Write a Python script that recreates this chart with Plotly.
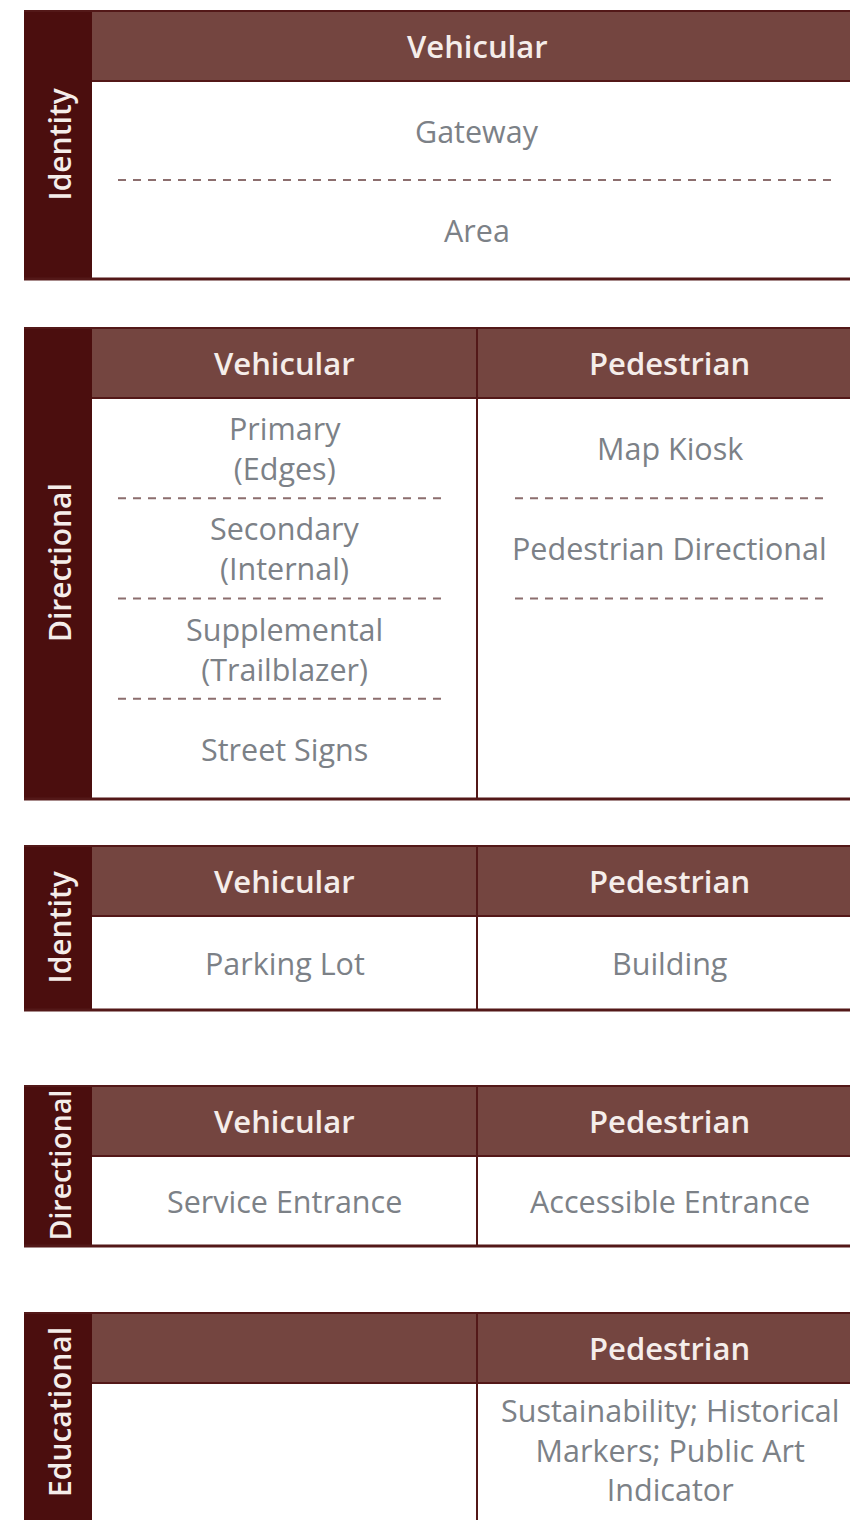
import plotly.graph_objects as go

# ---------------- data ----------------
section_labels = ["Identity", "Directional", "Identity", "Directional", "Educational"]

column_headers = [
    ["Vehicular"],
    ["Vehicular", "Pedestrian"],
    ["Vehicular", "Pedestrian"],
    ["Vehicular", "Pedestrian"],
    ["", "Pedestrian"],
]

column_items = [
    [["Gateway", "Area"]],
    [["Primary<br>(Edges)", "Secondary<br>(Internal)", "Supplemental<br>(Trailblazer)", "Street Signs"],
     ["Map Kiosk", "Pedestrian Directional"]],
    [["Parking Lot"], ["Building"]],
    [["Service Entrance"], ["Accessible Entrance"]],
    [[], ["Sustainability; Historical<br>Markers; Public Art<br>Indicator"]],
]

# ---------------- layout geometry / style ----------------
W, H = 850, 1520
SIDE_X0, SIDE_X1 = 24, 92
TABLE_X1 = 862
table_tops = [10, 327, 845, 1085, 1312]
table_bottoms = [279, 799, 1010, 1246, 1516]
open_bottom = [False, False, False, False, True]
HEADER_H = 71
DASH_INSET = [(26, 29), (38, 32)]

SIDEBAR_COLOR = "#4B0E0E"
HEADER_COLOR = "#744540"
BORDER_COLOR = "#531818"
DASH_COLOR = "#8C6E6E"
HEADER_TEXT = "#F5EDEA"
BODY_TEXT = "#7C8187"
FONT = "Open Sans"
HEADER_SIZE = 31
BODY_SIZE = 30.5
SIDE_SIZE = 30

shapes = []
annotations = []

for s, label in enumerate(section_labels):
    top = table_tops[s]
    bottom = table_bottoms[s]
    draw_bottom = H + 10 if open_bottom[s] else bottom
    htop, hbot = top, top + HEADER_H
    ncols = len(column_headers[s])
    colw = (TABLE_X1 - SIDE_X1) / ncols

    shapes.append(dict(type="rect", xref="x", yref="y", x0=SIDE_X0, x1=SIDE_X1,
                       y0=top, y1=draw_bottom, fillcolor=SIDEBAR_COLOR, line=dict(width=0), layer="below"))
    shapes.append(dict(type="rect", xref="x", yref="y", x0=SIDE_X1, x1=TABLE_X1,
                       y0=htop, y1=hbot, fillcolor=HEADER_COLOR, line=dict(width=0), layer="below"))
    shapes.append(dict(type="line", xref="x", yref="y", x0=SIDE_X0, x1=TABLE_X1, y0=top + 1, y1=top + 1,
                       line=dict(color=BORDER_COLOR, width=2)))
    shapes.append(dict(type="line", xref="x", yref="y", x0=SIDE_X1, x1=TABLE_X1, y0=hbot, y1=hbot,
                       line=dict(color=BORDER_COLOR, width=2)))
    if not open_bottom[s]:
        shapes.append(dict(type="line", xref="x", yref="y", x0=SIDE_X0, x1=TABLE_X1, y0=bottom, y1=bottom,
                           line=dict(color=BORDER_COLOR, width=3)))
    for c in range(1, ncols):
        xd = SIDE_X1 + c * colw
        shapes.append(dict(type="line", xref="x", yref="y", x0=xd, x1=xd, y0=htop, y1=draw_bottom,
                           line=dict(color=BORDER_COLOR, width=2)))

    side_bottom = bottom - 4 if open_bottom[s] else bottom
    side_size = min(SIDE_SIZE, (bottom - top - 12) / (0.475 * len(label)))
    annotations.append(dict(x=(SIDE_X0 + SIDE_X1) / 2 + 1, y=(top + side_bottom) / 2, xref="x", yref="y",
                            text=label, textangle=-90, showarrow=False,
                            font=dict(family=FONT, size=side_size, color=HEADER_TEXT, weight=600)))

    max_n = max(len(items) for items in column_items[s])
    body_top = hbot
    slot = (bottom - body_top) / max_n

    for c in range(ncols):
        cx0 = SIDE_X1 + c * colw
        cx1 = cx0 + colw
        cxm = (cx0 + cx1) / 2
        hdr = column_headers[s][c]
        if hdr:
            annotations.append(dict(x=cxm, y=(htop + hbot) / 2, xref="x", yref="y", text=hdr,
                                    showarrow=False,
                                    font=dict(family=FONT, size=HEADER_SIZE, color=HEADER_TEXT, weight=600)))
        items = column_items[s][c]
        for i, txt in enumerate(items):
            yc = body_top + (i + 0.5) * slot
            annotations.append(dict(x=cxm, y=yc, xref="x", yref="y", text=txt,
                                    showarrow=False,
                                    font=dict(family=FONT, size=BODY_SIZE, color=BODY_TEXT)))
        li, ri = DASH_INSET[min(c, 1)]
        for k in range(1, min(len(items), max_n - 1) + 1):
            yd = body_top + k * slot
            shapes.append(dict(type="line", xref="x", yref="y", x0=cx0 + li, x1=cx1 - ri, y0=yd, y1=yd,
                               line=dict(color=DASH_COLOR, width=2, dash="8px,7px")))

fig = go.Figure()
fig.update_layout(
    width=W, height=H,
    margin=dict(l=0, r=0, t=0, b=0),
    paper_bgcolor="white", plot_bgcolor="white",
    xaxis=dict(range=[0, W], visible=False, fixedrange=True),
    yaxis=dict(range=[H, 0], visible=False, fixedrange=True),
    shapes=shapes, annotations=annotations, showlegend=False,
)
fig.write_html("out.html", config={"displayModeBar": False},
               post_script="document.body.style.margin='0';document.body.style.overflow='hidden';")
